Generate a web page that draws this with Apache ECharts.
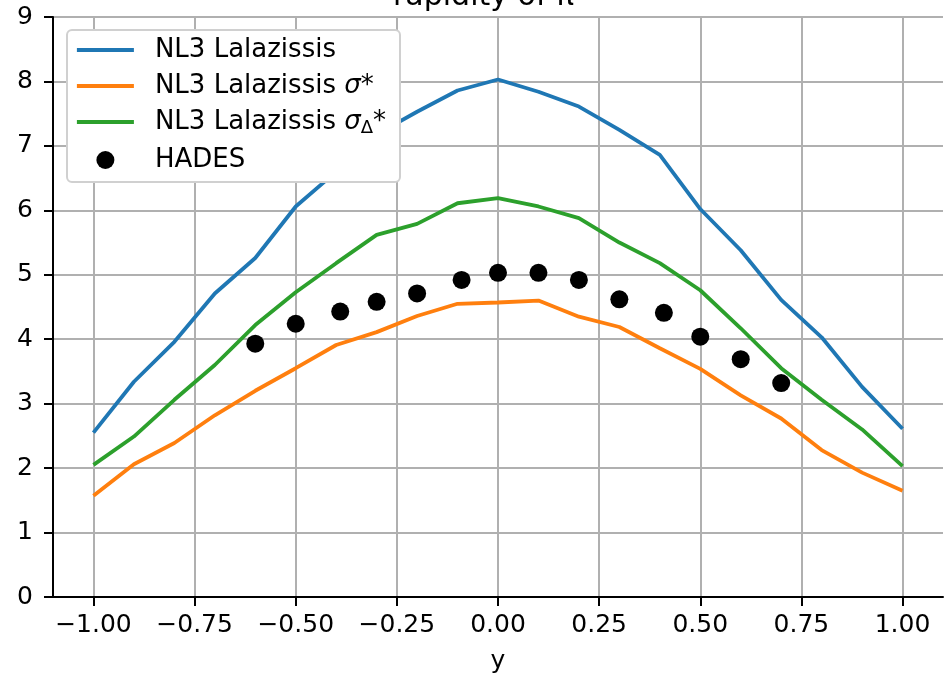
<!DOCTYPE html>
<html>
<head>
<meta charset="utf-8">
<script src="https://cdn.jsdelivr.net/npm/echarts@6/dist/echarts.min.js"></script>
<style>
html,body{margin:0;padding:0;background:#fff;}
#chart{width:945px;height:681px;}
</style>
</head>
<body>
<div id="chart"></div>
<script>
var titleText = 'rapidity of π';
var titleSup = '−';
var xAxisName = 'y';
var xTicks = [-1.0, -0.75, -0.5, -0.25, 0.0, 0.25, 0.5, 0.75, 1.0];
var lineX = [-1.0, -0.9, -0.8, -0.7, -0.6, -0.5, -0.4, -0.3, -0.2, -0.1, 0.0, 0.1, 0.2, 0.3, 0.4, 0.5, 0.6, 0.7, 0.8, 0.9, 1.0];
var nl3 = [2.55, 3.34, 3.96, 4.71, 5.26, 6.06, 6.60, 7.18, 7.53, 7.86, 8.03, 7.84, 7.61, 7.25, 6.86, 6.02, 5.38, 4.61, 4.03, 3.26, 2.61];
var nl3Sigma = [1.57, 2.06, 2.39, 2.82, 3.20, 3.55, 3.91, 4.11, 4.36, 4.55, 4.57, 4.60, 4.35, 4.19, 3.86, 3.54, 3.13, 2.77, 2.28, 1.93, 1.65];
var nl3SigmaDelta = [2.05, 2.49, 3.06, 3.60, 4.22, 4.73, 5.18, 5.62, 5.79, 6.11, 6.19, 6.06, 5.88, 5.50, 5.18, 4.76, 4.17, 3.55, 3.06, 2.60, 2.03];
var hadesX = [-0.6, -0.5, -0.39, -0.3, -0.2, -0.09, 0.0, 0.1, 0.2, 0.3, 0.41, 0.5, 0.6, 0.7];
var hadesY = [3.93, 4.24, 4.43, 4.58, 4.71, 4.92, 5.03, 5.03, 4.92, 4.62, 4.41, 4.04, 3.69, 3.32];
var names = ['NL3 Lalazissis', 'NL3 Lalazissis σ*', 'NL3 Lalazissis σΔ*', 'HADES'];

function pairs(xs, ys) { return xs.map(function (x, i) { return [x, ys[i]]; }); }
var FONT = 'DejaVu Sans';
var colors = ['#1f77b4', '#ff7f0e', '#2ca02c', '#000000'];
var LW = 3.8;

var chart = echarts.init(document.getElementById('chart'), null, {renderer: 'canvas'});
function lineSeries(name, data, color) {
  return {
    name: name, type: 'line', data: data, symbol: 'none', showSymbol: false,
    lineStyle: {color: color, width: LW}, itemStyle: {color: color},
    z: 2, animation: false
  };
}
var hiddenDot = {color: 'rgba(0,0,0,0)', borderWidth: 0, opacity: 0};
function legendLine(i) {
  return {name: names[i], itemStyle: hiddenDot, lineStyle: {color: colors[i], width: LW}};
}
var option = {
  animation: false,
  backgroundColor: '#ffffff',
  title: {
    text: '{m|' + titleText + '}{sup|' + titleSup + '}',
    left: 388, top: -23, padding: 5,
    textStyle: {fontFamily: FONT, fontSize: 30, fontWeight: 'normal', color: '#000',
      rich: {
        m: {fontFamily: FONT, fontSize: 30, color: '#000', lineHeight: 30},
        sup: {fontFamily: FONT, fontSize: 20, color: '#000', lineHeight: 20, verticalAlign: 'top'}
      }}
  },
  grid: {left: 53, right: 2, top: 17, bottom: 84, containLabel: false},
  xAxis: {
    type: 'value', min: -1.1, max: 1.1,
    name: xAxisName, nameLocation: 'middle', nameGap: 52,
    nameTextStyle: {fontFamily: FONT, fontSize: 25, color: '#000'},
    axisLine: {show: true, onZero: false, lineStyle: {color: '#000', width: 2}},
    axisTick: {show: true, customValues: xTicks, length: 9, lineStyle: {color: '#000', width: 2}},
    axisLabel: {show: true, customValues: xTicks, margin: 16, fontFamily: FONT, fontSize: 25, color: '#000',
      formatter: function (v) { return v.toFixed(2).replace('-', '\u2212'); }},
    splitLine: {show: true, lineStyle: {color: '#b0b0b0', width: 2}}
  },
  yAxis: {
    type: 'value', min: 0, max: 9, interval: 1,
    axisLine: {show: true, onZero: false, lineStyle: {color: '#000', width: 2}},
    axisTick: {show: true, length: 9, lineStyle: {color: '#000', width: 2}},
    axisLabel: {show: true, margin: 20, fontFamily: FONT, fontSize: 25, color: '#000'},
    splitLine: {show: true, lineStyle: {color: '#b0b0b0', width: 2}}
  },
  legend: {
    show: true, orient: 'vertical', left: 67, top: 30,
    data: [
      legendLine(0), legendLine(1), legendLine(2),
      {name: names[3], icon: 'circle'}
    ],
    itemWidth: 57, itemHeight: 18, itemGap: 10,
    lineStyle: {width: LW},
    padding: [7, 14, 9, 8],
    backgroundColor: '#ffffff', borderColor: '#d0d0d0', borderWidth: 2, borderRadius: 5,
    selectedMode: false,
    formatter: function (name) {
      if (name === names[1]) return '{t|NL3 Lalazissis }{i|σ}{t|*}';
      if (name === names[2]) return '{t|NL3 Lalazissis }{i|σ}{s|Δ}{t|*}';
      return '{t|' + name + '}';
    },
    textStyle: {
      fontFamily: FONT, fontSize: 26, color: '#000', padding: [0, 0, 0, 16],
      rich: {
        t: {fontFamily: FONT, fontSize: 26, color: '#000', lineHeight: 30},
        i: {fontFamily: FONT, fontSize: 26, fontStyle: 'italic', color: '#000', lineHeight: 30},
        s: {fontFamily: FONT, fontSize: 18, color: '#000', lineHeight: 18, verticalAlign: 'bottom'}
      }
    },
    z: 10
  },
  series: [
    lineSeries(names[0], pairs(lineX, nl3), colors[0]),
    lineSeries(names[1], pairs(lineX, nl3Sigma), colors[1]),
    lineSeries(names[2], pairs(lineX, nl3SigmaDelta), colors[2]),
    {name: names[3], type: 'scatter', data: pairs(hadesX, hadesY), symbol: 'circle', symbolSize: 18,
      itemStyle: {color: '#000', opacity: 1}, z: 3, animation: false}
  ]
};
chart.setOption(option);
</script>
</body>
</html>
